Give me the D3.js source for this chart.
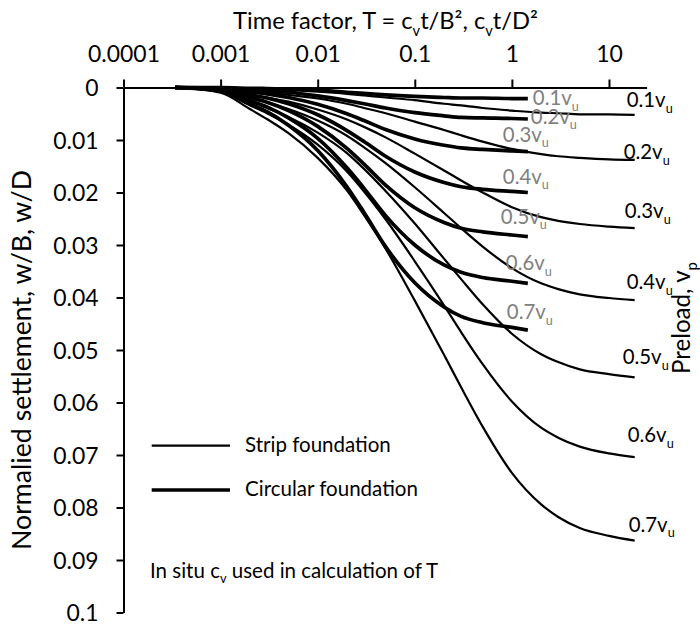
<!DOCTYPE html>
<html>
<head>
<meta charset="utf-8">
<script src="https://cdn.jsdelivr.net/npm/d3@7"></script>
<style>
  body { margin: 0; background: #fff; }
  text { font-family: Lato, "Open Sans", sans-serif; fill: #000; }
</style>
</head>
<body>
<svg id="chart" width="700" height="626"></svg>
<script>
// Preload levels, as fractions of vu
const preloads = ["0.1", "0.2", "0.3", "0.4", "0.5", "0.6", "0.7"];

// Strip foundation (thin lines): time factor T and settlement w/B
const stripTimes = [0.00034, 0.001, 0.002, 0.003, 0.005, 0.01, 0.02, 0.03, 0.05, 0.1, 0.2, 0.3, 0.5, 1, 2, 3, 5, 10, 18.4];
const stripSettlement = [
  [0, 0.0001, 0.0002, 0.0004, 0.0005, 0.0008, 0.0012, 0.0015, 0.0019, 0.0024, 0.0031, 0.0034, 0.0039, 0.0044, 0.0048, 0.0049, 0.0051, 0.0051, 0.0052],
  [0, 0.0002, 0.0007, 0.0010, 0.0014, 0.0021, 0.0031, 0.0039, 0.0049, 0.0065, 0.0081, 0.0091, 0.0103, 0.0117, 0.0127, 0.0131, 0.0134, 0.0137, 0.0138],
  [0, 0.0003, 0.0013, 0.0019, 0.0027, 0.0042, 0.0061, 0.0075, 0.0095, 0.0126, 0.0158, 0.0177, 0.0200, 0.0228, 0.0247, 0.0254, 0.0260, 0.0265, 0.0268],
  [0, 0.0005, 0.0019, 0.0028, 0.0041, 0.0063, 0.0092, 0.0114, 0.0144, 0.0190, 0.0239, 0.0268, 0.0303, 0.0344, 0.0373, 0.0384, 0.0394, 0.0401, 0.0405],
  [0, 0.0007, 0.0026, 0.0039, 0.0056, 0.0086, 0.0125, 0.0155, 0.0197, 0.0259, 0.0326, 0.0365, 0.0413, 0.0469, 0.0508, 0.0523, 0.0537, 0.0546, 0.0552],
  [0, 0.0008, 0.0034, 0.0049, 0.0071, 0.0109, 0.0160, 0.0198, 0.0251, 0.0331, 0.0415, 0.0466, 0.0527, 0.0598, 0.0648, 0.0667, 0.0684, 0.0697, 0.0704],
  [0, 0.0010, 0.0041, 0.0060, 0.0087, 0.0134, 0.0196, 0.0243, 0.0307, 0.0406, 0.0509, 0.0571, 0.0646, 0.0734, 0.0794, 0.0818, 0.0839, 0.0854, 0.0863]
];

// Circular foundation (thick lines): time factor T and settlement w/D
const circTimes = [0.00034, 0.001, 0.002, 0.003, 0.005, 0.01, 0.02, 0.03, 0.05, 0.1, 0.2, 0.3, 0.5, 1, 1.46];
const circSettlement = [
  [0, 0.00003, 0.00014, 0.0002, 0.0003, 0.0005, 0.0009, 0.0011, 0.0014, 0.0017, 0.0019, 0.0020, 0.0020, 0.0021, 0.0021],
  [0, 0.0001, 0.0004, 0.0006, 0.0009, 0.0016, 0.0025, 0.0031, 0.0039, 0.0048, 0.0054, 0.0057, 0.0058, 0.0059, 0.0060],
  [0, 0.0002, 0.0008, 0.0012, 0.0019, 0.0032, 0.0050, 0.0063, 0.0080, 0.0098, 0.0110, 0.0115, 0.0118, 0.0121, 0.0122],
  [0, 0.0003, 0.0014, 0.0020, 0.0031, 0.0052, 0.0082, 0.0103, 0.0131, 0.0161, 0.0181, 0.0189, 0.0194, 0.0198, 0.0200],
  [0, 0.0004, 0.0019, 0.0028, 0.0044, 0.0074, 0.0116, 0.0146, 0.0186, 0.0229, 0.0257, 0.0268, 0.0275, 0.0281, 0.0284],
  [0, 0.0006, 0.0025, 0.0037, 0.0058, 0.0097, 0.0153, 0.0192, 0.0244, 0.0300, 0.0338, 0.0352, 0.0362, 0.0369, 0.0373],
  [0, 0.0007, 0.0031, 0.0046, 0.0072, 0.0120, 0.0189, 0.0238, 0.0303, 0.0372, 0.0418, 0.0436, 0.0448, 0.0457, 0.0462]
];

const xTicks = [0.0001, 0.001, 0.01, 0.1, 1, 10];
const xTickLabels = ["0.0001", "0.001", "0.01", "0.1", "1", "10"];
const yTicks = [0, 0.01, 0.02, 0.03, 0.04, 0.05, 0.06, 0.07, 0.08, 0.09, 0.1];
const yTickLabels = ["0", "0.01", "0.02", "0.03", "0.04", "0.05", "0.06", "0.07", "0.08", "0.09", "0.1"];

// label placement relative to each curve end, in pixels
const stripLabelOffset = [[-8, -15], [-11, -8], [-10, -17], [-8, -18], [-12, -20], [-7, -22], [-6, -16]];
const circLabelOffset = [[5, -0.5], [3, -2.5], [-25, -17], [-25, -16], [-27, -20], [-22, -20], [-21, -18]];

const svg = d3.select("#chart");

const x = d3.scaleLog().domain([1e-4, 24.4]).range([123.5, 646.6]);
const y = d3.scaleLinear().domain([0, 0.1]).range([87.5, 612.5]);

// writes text runs, with subscripts, at the given font size
function rich(sel, runs, size) {
  sel.selectAll("tspan").remove();
  sel.attr("font-size", size);
  let shift = 0;
  runs.forEach((r) => {
    const want = r.sub ? size * 0.28 : 0;
    const t = sel.append("tspan").text(r.t).attr("dy", want - shift);
    if (r.sub) t.attr("font-size", size * 0.62);
    shift = want;
  });
  return sel;
}

// scales the font so the text is as wide as in the picture
function fit(sel, runs, width) {
  rich(sel, runs, 100);
  const w = sel.node().getComputedTextLength();
  const size = (100 * width) / w;
  rich(sel, runs, size);
  return size;
}

// curves
const line = d3
  .line()
  .x((d) => x(d[0]))
  .y((d) => y(d[1]))
  .curve(d3.curveMonotoneX);

stripSettlement.forEach((vals) => {
  svg
    .append("path")
    .datum(stripTimes.map((t, j) => [t, vals[j]]))
    .attr("d", line)
    .attr("fill", "none")
    .attr("stroke", "#000")
    .attr("stroke-width", 2.2);
});

circSettlement.forEach((vals) => {
  svg
    .append("path")
    .datum(circTimes.map((t, j) => [t, vals[j]]))
    .attr("d", line)
    .attr("fill", "none")
    .attr("stroke", "#000")
    .attr("stroke-width", 3.7);
});

// axes
const xAxis = d3
  .axisTop(x)
  .tickValues(xTicks)
  .tickFormat((d, i) => xTickLabels[i])
  .tickSize(8)
  .tickSizeOuter(0);

const gx = svg.append("g").attr("transform", `translate(0,${y(0)})`).call(xAxis);

const yAxis = d3
  .axisLeft(y)
  .tickValues(yTicks)
  .tickFormat((d, i) => yTickLabels[i])
  .tickSize(7)
  .tickSizeOuter(0);

const gy = svg.append("g").attr("transform", `translate(${x(1e-4)},0)`).call(yAxis);

[gx, gy].forEach((g) => {
  g.selectAll("path, line").attr("stroke", "#000").attr("stroke-width", 2);
  g.selectAll("text").attr("font-family", null).attr("fill", "#000");
});

// tick label size taken from "0.0001"
const probe = svg.append("text");
const tickSize = fit(probe, [{ t: "0.0001" }], 72);
probe.remove();

gx.selectAll("text")
  .attr("font-size", tickSize)
  .attr("y", 61.7 - y(0))
  .attr("dy", 0);
gy.selectAll("text")
  .attr("font-size", tickSize)
  .attr("x", -25)
  .attr("dy", "0.35em");

// title
const title = svg.append("text").attr("x", 385.5).attr("y", 29).attr("text-anchor", "middle");
fit(title, [{ t: "Time factor, T = c" }, { t: "v", sub: true }, { t: "t/B², c" }, { t: "v", sub: true }, { t: "t/D²" }], 305);

// y axis title
const yTitle = svg
  .append("text")
  .attr("transform", "translate(31,360) rotate(-90)")
  .attr("text-anchor", "middle");
fit(yTitle, [{ t: "Normalied settlement, w/B, w/D" }], 380);

// preload title on the right
const pTitle = svg
  .append("text")
  .attr("transform", "translate(690,318) rotate(-90)")
  .attr("text-anchor", "middle");
fit(pTitle, [{ t: "Preload, v" }, { t: "p", sub: true }], 112);

// curve labels
const labelProbe = svg.append("text");
const labelSize = fit(labelProbe, [{ t: "0.1v" }, { t: "u", sub: true }], 46);
labelProbe.remove();

preloads.forEach((p, i) => {
  const last = stripTimes.length - 1;
  const ex = x(stripTimes[last]);
  const ey = y(stripSettlement[i][last]);
  const t = svg
    .append("text")
    .attr("x", ex + stripLabelOffset[i][0])
    .attr("y", ey + stripLabelOffset[i][1] + labelSize * 0.35);
  rich(t, [{ t: p + "v" }, { t: "u", sub: true }], labelSize);
});

preloads.forEach((p, i) => {
  const last = circTimes.length - 1;
  const ex = x(circTimes[last]);
  const ey = y(circSettlement[i][last]);
  const t = svg
    .append("text")
    .attr("x", ex + circLabelOffset[i][0])
    .attr("y", ey + circLabelOffset[i][1] + labelSize * 0.35)
    .style("fill", "#7f7f7f");
  rich(t, [{ t: p + "v" }, { t: "u", sub: true }], labelSize);
  t.selectAll("tspan").style("fill", "#7f7f7f");
});

// legend
const legend = svg.append("g");
legend
  .append("line")
  .attr("x1", 151.7).attr("x2", 230)
  .attr("y1", 445.7).attr("y2", 445.7)
  .attr("stroke", "#000").attr("stroke-width", 2.2);
legend
  .append("line")
  .attr("x1", 151.7).attr("x2", 230)
  .attr("y1", 490).attr("y2", 490)
  .attr("stroke", "#000").attr("stroke-width", 3.7);

const circText = legend.append("text").attr("x", 245).attr("y", 496);
const legendSize = fit(circText, [{ t: "Circular foundation" }], 173);
const stripText = legend.append("text").attr("x", 245).attr("y", 451.5);
rich(stripText, [{ t: "Strip foundation" }], legendSize);

// note
const note = svg.append("text").attr("x", 150).attr("y", 577.5);
rich(note, [{ t: "In situ c" }, { t: "v", sub: true }, { t: " used in calculation of T" }], legendSize);
</script>
</body>
</html>
